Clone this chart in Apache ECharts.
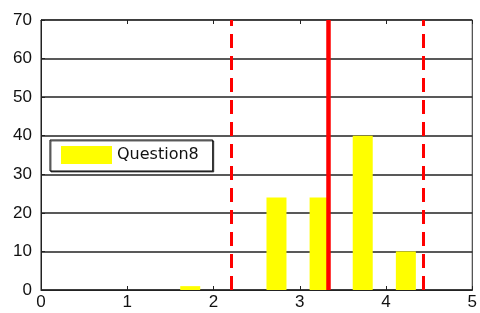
<!DOCTYPE html>
<html>
<head>
<meta charset="utf-8">
<script src="https://cdn.jsdelivr.net/npm/echarts@6/dist/echarts.min.js"></script>
<style>
  html, body { margin: 0; padding: 0; background: #fff; }
  #chart { width: 480px; height: 313px; }
</style>
</head>
<body>
<div id="chart"></div>
<script>
// 直方图数据（柱中心 x 与计数）
var binCenters = [1.73, 2.23, 2.73, 3.23, 3.73, 4.23]
var binCounts = [1, 0, 24, 24, 40, 10]
var seriesName = 'Question8'
// 红色参考线：均值与上下界
var meanLine = 3.33
var limitLines = [2.2, 4.43]
var xTicks = [0, 1, 2, 3, 4, 5]
var yTicks = [0, 10, 20, 30, 40, 50, 60, 70]

var barData = binCenters.map(function (x, i) { return [x, binCounts[i]] })

var myChart = echarts.init(document.getElementById('chart'))
// 坐标轴字体
var labelFont = {
  color: '#111',
  fontSize: 17,
  fontFamily: 'Liberation Sans Narrow, Arial Narrow, sans-serif'
}
var option = {
  animation: false,
  backgroundColor: '#fff',
  grid: {
    left: 41,
    right: 5,
    top: 20,
    bottom: 23,
    show: true,
    borderColor: '#222',
    borderWidth: 1
  },
  legend: {
    left: 50,
    top: 140,
    data: [seriesName],
    icon: 'rect',
    itemWidth: 51,
    itemHeight: 18,
    itemGap: 5,
    padding: [6, 14, 7, 11],
    backgroundColor: '#fff',
    borderColor: '#000',
    borderWidth: 1,
    shadowColor: 'rgba(0,0,0,0.6)',
    shadowOffsetX: 1,
    shadowOffsetY: 1,
    textStyle: {
      color: '#111',
      fontSize: 16,
      fontFamily: 'DejaVu Sans, sans-serif'
    }
  },
  xAxis: [{
    type: 'value',
    min: xTicks[0],
    max: xTicks[xTicks.length - 1],
    interval: 1,
    axisLine: { show: true, lineStyle: { color: '#222', width: 1 } },
    axisTick: { show: true, inside: true, length: 4, lineStyle: { color: '#222' } },
    axisLabel: Object.assign({ margin: 4 }, labelFont),
    splitLine: { show: false }
  }, {
    type: 'value',
    position: 'top',
    min: xTicks[0],
    max: xTicks[xTicks.length - 1],
    interval: 1,
    axisLine: { show: true, lineStyle: { color: '#444', width: 1 } },
    axisTick: { show: true, inside: true, length: 4, lineStyle: { color: '#222' } },
    axisLabel: { show: false },
    splitLine: { show: false }
  }],
  yAxis: {
    type: 'value',
    min: yTicks[0],
    max: yTicks[yTicks.length - 1],
    interval: 10,
    axisLine: { show: true, lineStyle: { color: '#222', width: 1 } },
    axisTick: { show: true, inside: true, length: 4, lineStyle: { color: '#222' } },
    axisLabel: Object.assign({ margin: 9 }, labelFont),
    splitLine: { show: true, lineStyle: { color: '#222', width: 1.5 } }
  },
  series: [{
    name: seriesName,
    type: 'bar',
    xAxisIndex: 0,
    barWidth: 20,
    itemStyle: { color: '#ffff00' },
    data: barData,
    markLine: {
      silent: true,
      symbol: ['none', 'none'],
      label: { show: false },
      data: [
        { xAxis: limitLines[0], lineStyle: { color: '#ff0000', width: 3, type: [14, 8] } },
        { xAxis: limitLines[1], lineStyle: { color: '#ff0000', width: 3, type: [14, 8] } },
        { xAxis: meanLine, lineStyle: { color: '#ff0000', width: 4.5, type: 'solid' } }
      ]
    }
  }]
}
myChart.setOption(option)
</script>
</body>
</html>
